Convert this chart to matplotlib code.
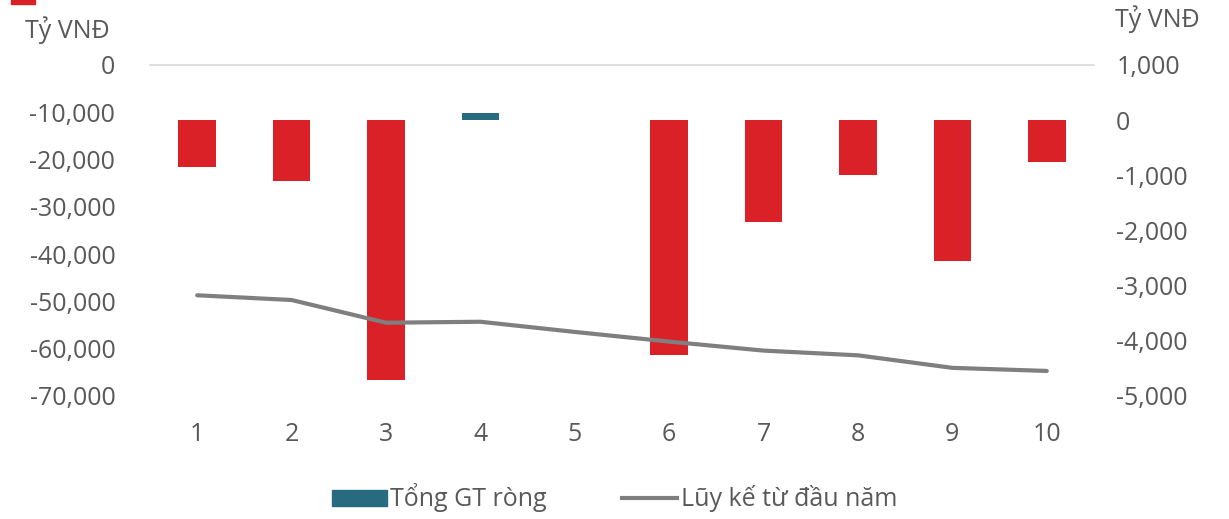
import matplotlib
matplotlib.use("Agg")
import matplotlib.pyplot as plt
from matplotlib.patches import Rectangle, Patch
from matplotlib.lines import Line2D
from matplotlib.ticker import FuncFormatter

# ── Data ──────────────────────────────────────────────────────────────────────
categories = ["1", "2", "3", "4", "5", "6", "7", "8", "9", "10"]
net_value = [-850, -1100, -4710, 125, 0, -4255, -1845, -995, -2550, -760]          # right axis
cumulative = [-48700, -49700, -54500, -54300, -56450, -58500, -60400, -61400, -64050, -64700]  # left axis

left_ticks = [0, -10000, -20000, -30000, -40000, -50000, -60000, -70000]
right_ticks = [1000, 0, -1000, -2000, -3000, -4000, -5000]

RED = "#DA2128"
TEAL = "#286B80"
GRAY_LINE = "#7F7F7F"
TEXT = "#595959"
FS = 18

plt.rcParams["font.family"] = ["Open Sans", "DejaVu Sans"]

fig = plt.figure(figsize=(12.29, 5.19), dpi=100)
ax = fig.add_axes([150 / 1229, 1 - 396 / 519, (1094 - 150) / 1229, (396 - 65) / 519])
ax2 = ax.twinx()

x = list(range(1, len(categories) + 1))
bar_colors = [TEAL if v > 0 else RED for v in net_value]
ax2.bar(x, net_value, width=0.4, color=bar_colors, zorder=3)
ax.plot(x, cumulative, color=GRAY_LINE, linewidth=3, solid_capstyle="round", zorder=4)
ax.set_zorder(ax2.get_zorder() + 1)
ax.patch.set_visible(False)

ax.set_xlim(0.5, 10.5)
ax.set_ylim(-70000, 0)
ax2.set_ylim(-5000, 1000)
ax.set_yticks(left_ticks)
ax2.set_yticks(right_ticks)
fmt = FuncFormatter(lambda v, p: f"{int(v):,}")
ax.yaxis.set_major_formatter(fmt)
ax2.yaxis.set_major_formatter(fmt)
ax.set_xticks(x)
ax.set_xticklabels(categories)

ax.axhline(0, color="#D9D9D9", linewidth=1.2, zorder=1, clip_on=False)

for a in (ax, ax2):
    for s in a.spines.values():
        s.set_visible(False)
    a.tick_params(length=0, colors=TEXT, labelsize=FS)
ax.tick_params(axis="y", pad=25)
ax.tick_params(axis="x", pad=19)
ax2.tick_params(axis="y", pad=16)

fig.text(25 / 1229, 1 - 30 / 519, "Tỷ VNĐ", color=TEXT, fontsize=FS, va="center", ha="left")
fig.text(1200 / 1229, 1 - 19 / 519, "Tỷ VNĐ", color=TEXT, fontsize=FS, va="center", ha="right")

# small red marker fragment at top-left corner
fig.patches.append(Rectangle((11 / 1229, 1 - 4 / 519), 24 / 1229, 4 / 519,
                             transform=fig.transFigure, color=RED, zorder=5))

handles = [Patch(color=TEAL, label="Tổng GT ròng"),
           Line2D([0], [0], color=GRAY_LINE, linewidth=3, label="Lũy kế từ đầu năm")]
fig.legend(handles=handles, loc="center", bbox_to_anchor=(0.5, 1 - 498 / 519), ncol=2,
           frameon=False, fontsize=FS, labelcolor=TEXT, handlelength=2.2,
           handletextpad=0.15, columnspacing=3.0, handleheight=0.6)

fig.savefig("out.png", dpi=100, facecolor="white")
